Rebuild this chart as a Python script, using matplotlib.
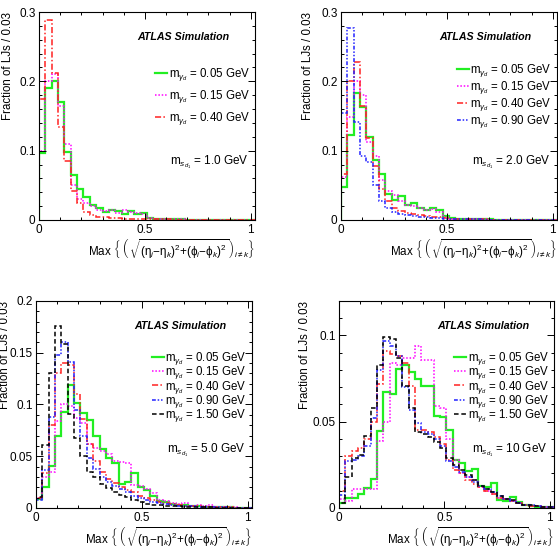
import numpy as np
import matplotlib
matplotlib.use('Agg')
import matplotlib.pyplot as plt
from matplotlib.ticker import MultipleLocator, FuncFormatter
from matplotlib.lines import Line2D

plt.rcParams['font.family'] = ['Liberation Sans', 'DejaVu Sans']
plt.rcParams['mathtext.fontset'] = 'custom'
plt.rcParams['mathtext.rm'] = 'Liberation Sans'
plt.rcParams['mathtext.it'] = 'Liberation Sans:italic'
plt.rcParams['mathtext.bf'] = 'Liberation Sans:bold'

# binning: 34 bins of 0.03
edges = np.arange(35) * 0.03

# dark photon masses
masses = ['0.05', '0.15', '0.40', '0.90', '1.50']

# panel 1, m_sd1 = 1.0 GeV
p1_g = [0.097, 0.190, 0.200, 0.170, 0.098, 0.065, 0.045, 0.033, 0.021, 0.017,
        0.011, 0.015, 0.013, 0.009, 0.013, 0.008, 0.010, 0.003, 0.002, 0.001,
        0.001, 0.001, 0.0008, 0.0006, 0.0005, 0.0005, 0.0004, 0.0004, 0.0003, 0.0003,
        0.0002, 0.0002, 0.0002, 0.0001]
p1_m = [0.100, 0.200, 0.210, 0.165, 0.110, 0.050, 0.030, 0.024, 0.020, 0.015,
        0.013, 0.015, 0.010, 0.014, 0.011, 0.010, 0.008, 0.003, 0.002, 0.001,
        0.001, 0.0008, 0.0007, 0.0006, 0.0005, 0.0004, 0.0004, 0.0003, 0.0003, 0.0002,
        0.0002, 0.0002, 0.0001, 0.0001]
p1_r = [0.175, 0.288, 0.212, 0.134, 0.085, 0.042, 0.025, 0.012, 0.007, 0.005,
        0.004, 0.003, 0.003, 0.002, 0.002, 0.002, 0.001, 0.001, 0.001, 0.0008,
        0.0007, 0.0006, 0.0005, 0.0004, 0.0004, 0.0003, 0.0003, 0.0002, 0.0002, 0.0002,
        0.0001, 0.0001, 0.0001, 0.0001]

# panel 2, m_sd1 = 2.0 GeV
p2_g = [0.048, 0.123, 0.183, 0.163, 0.119, 0.087, 0.066, 0.038, 0.029, 0.034,
        0.021, 0.024, 0.018, 0.015, 0.017, 0.015, 0.006, 0.003, 0.002, 0.001,
        0.001, 0.001, 0.0008, 0.0007, 0.0006, 0.0005, 0.0004, 0.0004, 0.0003, 0.0003,
        0.0002, 0.0002, 0.0001, 0.0001]
p2_m = [0.062, 0.148, 0.200, 0.181, 0.113, 0.093, 0.057, 0.042, 0.036, 0.027,
        0.022, 0.020, 0.018, 0.015, 0.016, 0.012, 0.005, 0.002, 0.0015, 0.001,
        0.001, 0.0008, 0.0007, 0.0006, 0.0005, 0.0004, 0.0004, 0.0003, 0.0003, 0.0002,
        0.0002, 0.0002, 0.0001, 0.0001]
p2_r = [0.066, 0.200, 0.228, 0.165, 0.118, 0.078, 0.045, 0.027, 0.018, 0.013,
        0.010, 0.008, 0.007, 0.006, 0.005, 0.004, 0.003, 0.002, 0.0015, 0.001,
        0.001, 0.0008, 0.0007, 0.0006, 0.0005, 0.0004, 0.0004, 0.0003, 0.0003, 0.0002,
        0.0002, 0.0002, 0.0001, 0.0001]
p2_b = [0.155, 0.277, 0.141, 0.092, 0.083, 0.050, 0.028, 0.017, 0.012, 0.009,
        0.007, 0.006, 0.005, 0.004, 0.003, 0.003, 0.002, 0.0015, 0.001, 0.001,
        0.0008, 0.0007, 0.0006, 0.0005, 0.0004, 0.0004, 0.0003, 0.0003, 0.0002, 0.0002,
        0.0002, 0.0001, 0.0001, 0.0001]

# panel 3, m_sd1 = 5.0 GeV
p3_g = [0.009, 0.020, 0.041, 0.070, 0.093, 0.119, 0.101, 0.092, 0.085, 0.070,
        0.057, 0.048, 0.043, 0.023, 0.025, 0.034, 0.020, 0.017, 0.012, 0.007,
        0.006, 0.004, 0.003, 0.003, 0.002, 0.002, 0.001, 0.001, 0.001, 0.0008,
        0.0005, 0.0004, 0.0003, 0.0002]
p3_m = [0.010, 0.030, 0.035, 0.084, 0.100, 0.099, 0.087, 0.082, 0.062, 0.058,
        0.055, 0.052, 0.045, 0.044, 0.043, 0.022, 0.021, 0.018, 0.014, 0.008,
        0.007, 0.005, 0.004, 0.005, 0.002, 0.003, 0.002, 0.003, 0.001, 0.001,
        0.0008, 0.0005, 0.0003, 0.0002]
p3_r = [0.010, 0.034, 0.080, 0.130, 0.140, 0.138, 0.110, 0.086, 0.062, 0.045,
        0.035, 0.028, 0.024, 0.020, 0.017, 0.015, 0.012, 0.010, 0.008, 0.006,
        0.005, 0.004, 0.003, 0.002, 0.002, 0.0015, 0.001, 0.001, 0.0008, 0.0006,
        0.0005, 0.0003, 0.0002, 0.0001]
p3_b = [0.008, 0.037, 0.088, 0.148, 0.160, 0.141, 0.095, 0.070, 0.048, 0.038,
        0.030, 0.025, 0.021, 0.018, 0.015, 0.012, 0.010, 0.008, 0.006, 0.005,
        0.004, 0.003, 0.002, 0.002, 0.0015, 0.001, 0.001, 0.0008, 0.0006, 0.0005,
        0.0004, 0.0003, 0.0002, 0.0001]
p3_k = [0.011, 0.061, 0.130, 0.176, 0.158, 0.091, 0.068, 0.050, 0.035, 0.030,
        0.023, 0.019, 0.015, 0.013, 0.011, 0.008, 0.006, 0.004, 0.003, 0.003,
        0.002, 0.002, 0.0015, 0.001, 0.001, 0.0008, 0.0006, 0.0005, 0.0004, 0.0003,
        0.0002, 0.0002, 0.0001, 0.0001]

# panel 4, m_sd1 = 10 GeV
p4_g = [0.003, 0.0056, 0.0056, 0.008, 0.0114, 0.0168, 0.0446, 0.0674, 0.066, 0.0806,
        0.083, 0.079, 0.075, 0.071, 0.071, 0.0535, 0.0525, 0.045, 0.0276, 0.026,
        0.0217, 0.0227, 0.0125, 0.012, 0.0146, 0.0045, 0.004, 0.0063, 0.0035, 0.002,
        0.001, 0.0008, 0.0005, 0.0003]
p4_m = [0.005, 0.004, 0.011, 0.011, 0.011, 0.011, 0.039, 0.050, 0.084, 0.083,
        0.087, 0.087, 0.094, 0.086, 0.086, 0.059, 0.058, 0.040, 0.028, 0.020,
        0.018, 0.016, 0.012, 0.010, 0.008, 0.006, 0.005, 0.004, 0.003, 0.002,
        0.001, 0.001, 0.0005, 0.0003]
p4_r = [0.010, 0.030, 0.033, 0.035, 0.040, 0.050, 0.072, 0.091, 0.089, 0.088,
        0.084, 0.071, 0.045, 0.045, 0.044, 0.041, 0.037, 0.028, 0.022, 0.020,
        0.016, 0.014, 0.012, 0.010, 0.008, 0.006, 0.005, 0.004, 0.003, 0.002,
        0.001, 0.001, 0.0005, 0.0003]
p4_b = [0.0075, 0.027, 0.028, 0.030, 0.036, 0.052, 0.080, 0.097, 0.094, 0.088,
        0.070, 0.057, 0.049, 0.044, 0.043, 0.040, 0.036, 0.027, 0.024, 0.021,
        0.018, 0.015, 0.013, 0.011, 0.009, 0.007, 0.005, 0.004, 0.003, 0.002,
        0.0015, 0.001, 0.0005, 0.0003]
p4_k = [0.003, 0.018, 0.029, 0.031, 0.042, 0.058, 0.083, 0.099, 0.098, 0.087,
        0.071, 0.058, 0.044, 0.043, 0.041, 0.038, 0.035, 0.029, 0.025, 0.022,
        0.019, 0.016, 0.013, 0.011, 0.009, 0.007, 0.0054, 0.0044, 0.003, 0.002,
        0.0015, 0.001, 0.0005, 0.0003]

# style per dark photon mass
colors = ['#22ee22', '#ff00ff', '#ff2222', '#2222ff', 'black']
styles = ['-', (0, (1, 1.2)), (0, (4, 1.5, 1, 1.5)), (0, (2.5, 1.2, 1, 1.2, 1, 1.2)), (0, (3, 1.8))]
widths = [1.6, 1.1, 1.1, 1.1, 1.1]

panels = [
    dict(rect=[0.0699, 0.6022, 0.3871, 0.3761], series=[p1_g, p1_m, p1_r], ymax=0.3,
         major=0.1, minor=0.02, ms='1.0 GeV', leg_top=0.74, leg_sp=0.42, lab_x=-0.115),
    dict(rect=[0.6111, 0.6022, 0.3871, 0.3761], series=[p2_g, p2_m, p2_r, p2_b], ymax=0.3,
         major=0.1, minor=0.02, ms='2.0 GeV', leg_top=0.76, leg_sp=0.0, lab_x=-0.125),
    dict(rect=[0.0645, 0.0814, 0.3871, 0.3743], series=[p3_g, p3_m, p3_r, p3_b, p3_k], ymax=0.2,
         major=0.05, minor=0.01, ms='5.0 GeV', leg_top=0.765, leg_sp=-0.22, lab_x=-0.118),
    dict(rect=[0.6075, 0.0814, 0.3853, 0.3743], series=[p4_g, p4_m, p4_r, p4_b, p4_k], ymax=0.12,
         major=0.05, minor=0.01, ms='10 GeV', leg_top=0.765, leg_sp=-0.22, lab_x=-0.13),
]

xlabel = (r'Max $\left\{\,\left(\,\sqrt{(\mathrm{\eta}_i\mathrm{-}\mathrm{\eta}_k)^2'
          r'\mathrm{+}(\mathrm{\phi}_i\mathrm{-}\mathrm{\phi}_k)^2}\,\right)_{i \neq k}\right\}$')

fig = plt.figure(figsize=(5.58, 5.53), dpi=100)
fs = 8.5

for p in panels:
    ax = fig.add_axes(p['rect'])
    handles = []
    for i, vals in enumerate(p['series']):
        ax.stairs(vals, edges, color=colors[i], linestyle=styles[i], linewidth=widths[i])
        handles.append(Line2D([], [], color=colors[i], linestyle=styles[i], linewidth=widths[i],
                              label=r'm$_{\gamma_{d}}$ = ' + masses[i] + ' GeV'))
    ax.set_xlim(0, 1.02)
    ax.set_ylim(0, p['ymax'])
    ax.xaxis.set_major_locator(MultipleLocator(0.5))
    ax.xaxis.set_minor_locator(MultipleLocator(0.1))
    ax.yaxis.set_major_locator(MultipleLocator(p['major']))
    ax.yaxis.set_minor_locator(MultipleLocator(p['minor']))
    fmt = FuncFormatter(lambda v, pos: '%g' % round(v, 4))
    ax.xaxis.set_major_formatter(fmt)
    ax.yaxis.set_major_formatter(fmt)
    ax.tick_params(which='both', direction='in', top=True, right=True, width=0.7, labelsize=fs)
    ax.tick_params(which='major', length=5)
    ax.tick_params(axis='x', which='major', pad=3)
    ax.tick_params(axis='y', which='major', pad=2.5)
    ax.tick_params(which='minor', length=2.5)
    for s in ax.spines.values():
        s.set_linewidth(0.8)

    ax.set_ylabel('Fraction of LJs / 0.03', fontsize=8.3, loc='top')
    ax.yaxis.set_label_coords(p['lab_x'], 1.0)
    ax.set_xlabel(xlabel, fontsize=8.4, loc='right')
    ax.xaxis.set_label_coords(1.0, -0.085)

    ax.text(0.455, 0.88, 'ATLAS Simulation', transform=ax.transAxes, fontsize=7.7,
            fontweight='bold', fontstyle='italic', ha='left', va='center')
    ax.text(0.97, 0.28, r'm$_{s_{d_1}}$ = ' + p['ms'], transform=ax.transAxes,
            fontsize=8.5, ha='right', va='center')
    ax.legend(handles=handles, loc='upper right', bbox_to_anchor=(0.975, p['leg_top']),
              frameon=False, fontsize=8.3, handlelength=1.0, handletextpad=0.15,
              labelspacing=p['leg_sp'], borderpad=0, borderaxespad=0)

fig.savefig('out.png', dpi=100)
